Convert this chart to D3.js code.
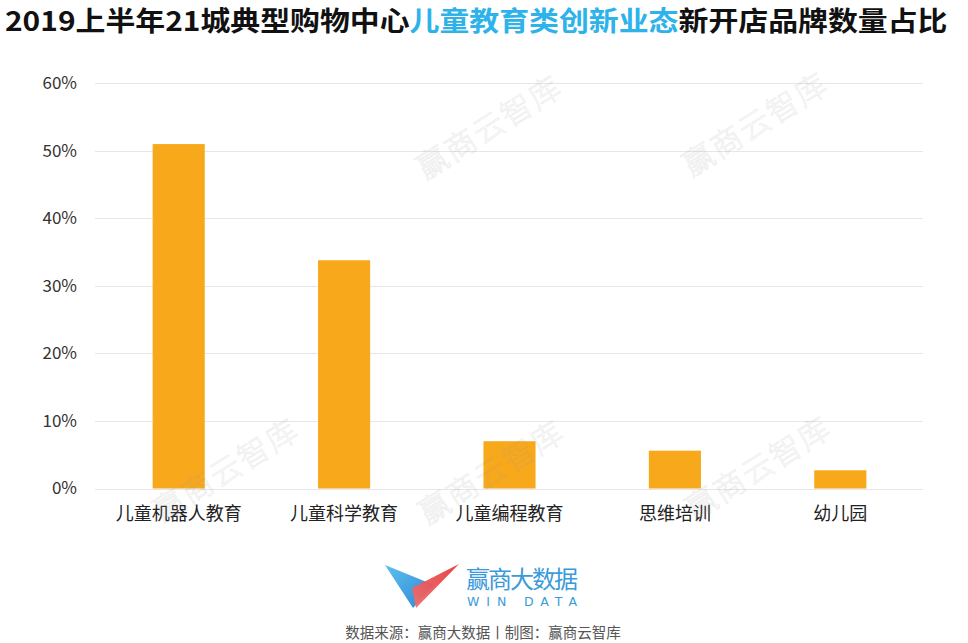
<!DOCTYPE html>
<html>
<head>
<meta charset="utf-8">
<script src="https://cdn.jsdelivr.net/npm/d3@7/dist/d3.min.js"></script>
<style>
  html, body { margin: 0; padding: 0; background: #fff; }
  svg { display: block; }
</style>
</head>
<body>
<svg id="chart" width="968" height="643"></svg>
<script>
// Share of new-store brands by children's-education format (H1 2019, 21 cities)
const categories = ["儿童机器人教育", "儿童科学教育", "儿童编程教育", "思维培训", "幼儿园"];
const shares = [51.0, 33.8, 7.0, 5.6, 2.7];
const yTicks = [0, 10, 20, 30, 40, 50, 60];
const titleParts = [
  { text: "2019上半年21城典型购物中心", color: "#111" },
  { text: "儿童教育类创新业态", color: "#2db3ea" },
  { text: "新开店品牌数量占比", color: "#111" }
];
const sourceText = "数据来源：赢商大数据丨制图：赢商云智库";
const watermarkText = "赢商云智库";
const watermarkSpots = [[488, 125], [754, 122], [225, 468], [490, 470], [757, 466]];

const W = 968, H = 643;
const svg = d3.select("#chart");
const FONT = "'Noto Sans CJK SC', 'Noto Sans', sans-serif";

const plot = { left: 96, right: 923, top: 83.3, bottom: 488.5 };

const x = d3.scaleBand()
  .domain(categories)
  .range([plot.left, plot.right])
  .paddingInner(0.685)
  .paddingOuter(0.3425);

const y = d3.scaleLinear()
  .domain([0, 60])
  .range([plot.bottom, plot.top]);

// Title
const title = svg.append("text")
  .attr("x", 5)
  .attr("y", 31.5)
  .attr("font-family", FONT)
  .attr("font-weight", 700)
  .attr("font-size", 27);
titleParts.forEach(p => {
  title.append("tspan").attr("fill", p.color).text(p.text);
});
// stretch the title to span the top edge
const tw = title.node().getComputedTextLength();
const targetW = 943;
title.attr("transform", `translate(5,0) scale(${targetW / tw},1) translate(-5,0)`);

// Gridlines
svg.append("g")
  .selectAll("line")
  .data(yTicks)
  .join("line")
  .attr("x1", plot.left - 1)
  .attr("x2", plot.right)
  .attr("y1", d => Math.round(y(d)) + 0.5)
  .attr("y2", d => Math.round(y(d)) + 0.5)
  .attr("stroke", "#e6e6e6")
  .attr("stroke-width", 1);

// Y axis labels
const yAxis = d3.axisLeft(y)
  .tickValues(yTicks)
  .tickFormat(d => d + "%")
  .tickSize(0)
  .tickPadding(0);
const yg = svg.append("g")
  .attr("transform", `translate(77,0)`)
  .call(yAxis);
yg.select(".domain").remove();
yg.selectAll("text")
  .attr("font-family", FONT)
  .attr("font-size", 17)
  .attr("fill", "#333");

// Bars
svg.append("g")
  .selectAll("rect")
  .data(categories)
  .join("rect")
  .attr("x", d => x(d))
  .attr("width", x.bandwidth())
  .attr("y", (d, i) => y(shares[i]))
  .attr("height", (d, i) => y(0) - y(shares[i]))
  .attr("fill", "#f8a81b");

// Category labels
const xAxis = d3.axisBottom(x).tickSize(0).tickPadding(0);
const xg = svg.append("g")
  .attr("transform", `translate(0,507)`)
  .call(xAxis);
xg.select(".domain").remove();
xg.selectAll("text")
  .attr("font-family", FONT)
  .attr("font-size", 18)
  .attr("fill", "#222");

// Watermarks
svg.append("g")
  .selectAll("text")
  .data(watermarkSpots)
  .join("text")
  .attr("transform", d => `translate(${d[0]},${d[1]}) rotate(-32)`)
  .attr("text-anchor", "middle")
  .attr("dominant-baseline", "central")
  .attr("font-family", FONT)
  .attr("font-weight", 300)
  .attr("font-size", 31)
  .attr("letter-spacing", 2)
  .attr("fill", "none")
  .attr("stroke", "#9a9a9a")
  .attr("stroke-opacity", 0.18)
  .attr("stroke-width", 0.9)
  .text(watermarkText);

// Logo
const defs = svg.append("defs");
const gBlue = defs.append("linearGradient").attr("id", "gBlue")
  .attr("x1", "0").attr("y1", "0").attr("x2", "1").attr("y2", "1");
gBlue.append("stop").attr("offset", "0").attr("stop-color", "#5cc0ef");
gBlue.append("stop").attr("offset", "1").attr("stop-color", "#2e86d3");
const gRed = defs.append("linearGradient").attr("id", "gRed")
  .attr("x1", "1").attr("y1", "0").attr("x2", "0").attr("y2", "1");
gRed.append("stop").attr("offset", "0").attr("stop-color", "#e5393a");
gRed.append("stop").attr("offset", "1").attr("stop-color", "#f07070");

const logo = svg.append("g");
logo.append("path")
  .attr("d", "M385,565 L434,585 L413,608 Z")
  .attr("fill", "url(#gBlue)");
logo.append("path")
  .attr("d", "M459,564 L412,588 L416,608 Z")
  .attr("fill", "url(#gRed)")
  .attr("opacity", 0.95);

logo.append("text")
  .attr("x", 466)
  .attr("y", 588)
  .attr("font-family", FONT)
  .attr("font-weight", 400)
  .attr("font-size", 24)
  .attr("fill", "#3a9bd8")
  .attr("textLength", 112)
  .text("赢商大数据");
logo.append("text")
  .attr("x", 467)
  .attr("y", 606)
  .attr("font-family", "'DejaVu Sans', sans-serif")
  .attr("font-size", 12.5)
  .attr("fill", "#3a9bd8")
  .attr("textLength", 110)
  .text("WIN DATA");

// Source line
svg.append("text")
  .attr("x", 483)
  .attr("y", 638)
  .attr("text-anchor", "middle")
  .attr("font-family", FONT)
  .attr("font-size", 14.5)
  .attr("fill", "#555")
  .text(sourceText);
</script>
</body>
</html>
